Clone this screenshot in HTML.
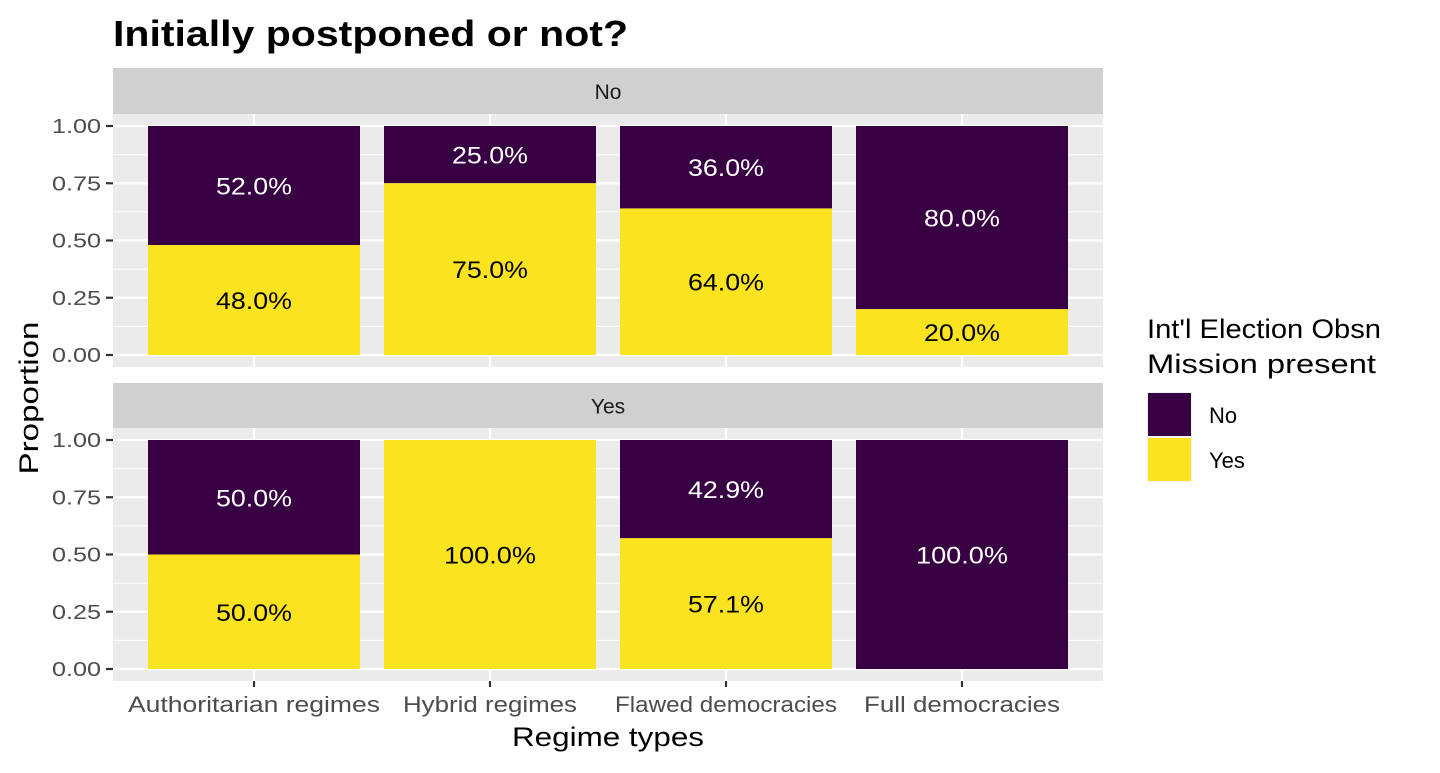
<!DOCTYPE html>
<html><head><meta charset="utf-8"><style>
body{margin:0;background:#fff;width:1440px;height:768px;overflow:hidden}
svg{font-family:"Liberation Sans",sans-serif}
</style></head><body>
<svg id="c" width="1440" height="768"></svg>
<script>
const categories=["Authoritarian regimes","Hybrid regimes","Flawed democracies","Full democracies"];
const facets=["No","Yes"];
const yesNoFacet=[0.48,0.75,0.64,0.20];
const yesYesFacet=[0.50,1.00,0.571,0.00];
const yTicks=[0,0.25,0.5,0.75,1];
const yTickLabels=["0.00","0.25","0.50","0.75","1.00"];
const yesSeries=[yesNoFacet,yesYesFacet];

const svg=document.getElementById('c');
const NS='http://www.w3.org/2000/svg';
function el(t,a,txt){const e=document.createElementNS(NS,t);for(const k in a)e.setAttribute(k,a[k]);if(txt!==undefined)e.textContent=txt;svg.appendChild(e);return e;}
function fit(e,w){e.setAttribute('textLength',w);e.setAttribute('lengthAdjust','spacingAndGlyphs');}
const PL=113,PR=1103;
const panels=[{stripTop:68,top:114,bottom:367,y1:126,y0:355},{stripTop:383,top:428,bottom:681,y1:440,y0:669}];
const xC=i=>254+i*236;const bw=212;

let t=el('text',{x:113,y:46,'font-size':36,'font-weight':'bold',fill:'#000'},'Initially postponed or not?');
fit(t,515);


panels.forEach((p,pi)=>{
  const y=v=>p.y0-(p.y0-p.y1)*v;
  let s=el('rect',{x:PL,y:p.stripTop,width:PR-PL,height:p.top-p.stripTop,fill:'#d0d0d0'});
  
  let st=el('text',{x:(PL+PR)/2,y:(p.stripTop+p.top)/2+8,'text-anchor':'middle','font-size':21,fill:'#1a1a1a'},facets[pi]);
  
  let bg=el('rect',{x:PL,y:p.top,width:PR-PL,height:p.bottom-p.top,fill:'#ebebeb'});
  
  for(let k=0;k<yTicks.length-1;k++){const m=(yTicks[k]+yTicks[k+1])/2;el('line',{x1:PL,x2:PR,y1:y(m),y2:y(m),stroke:'#fff','stroke-width':1.1});}
  yTicks.forEach((v,k)=>{
    el('line',{x1:PL,x2:PR,y1:y(v),y2:y(v),stroke:'#fff','stroke-width':2.2});
    el('line',{x1:106,x2:PL,y1:y(v),y2:y(v),stroke:'#333','stroke-width':2.2});
    let tl=el('text',{x:101,y:y(v)+7,'text-anchor':'end','font-size':20,fill:'#4d4d4d'},yTickLabels[k]);
    fit(tl,49);
    
  });
  categories.forEach((c,i)=>{
    el('line',{x1:xC(i),x2:xC(i),y1:p.top,y2:p.bottom,stroke:'#fff','stroke-width':2.2});
    if(pi===1)el('line',{x1:xC(i),x2:xC(i),y1:p.bottom,y2:p.bottom+6,stroke:'#333','stroke-width':2.2});
  });
  categories.forEach((c,i)=>{
    const yv=yesSeries[pi][i],nv=1-yv;
    if(nv>0){let b=el('rect',{x:xC(i)-bw/2,y:y(1),width:bw,height:y(yv)-y(1),fill:'#360042'});
      
      const s=(nv*100).toFixed(1)+'%';
      let l=el('text',{x:xC(i),y:y(yv+nv/2)+9,'text-anchor':'middle','font-size':24,fill:'#fff'},s);
      fit(l,s.length>5?92:76);
      }
    if(yv>0){let b=el('rect',{x:xC(i)-bw/2,y:y(yv),width:bw,height:y(0)-y(yv),fill:'#fbe31f'});
      
      const s=(yv*100).toFixed(1)+'%';
      let l=el('text',{x:xC(i),y:y(yv/2)+9,'text-anchor':'middle','font-size':24,fill:'#000'},s);
      fit(l,s.length>5?92:76);
      }
  });
});
const xw=[252,174,222,196];
categories.forEach((c,i)=>{let l=el('text',{x:xC(i),y:712,'text-anchor':'middle','font-size':22,fill:'#4d4d4d'},c);
  fit(l,xw[i]);
  });
let xt=el('text',{x:608,y:746,'text-anchor':'middle','font-size':27,fill:'#000'},'Regime types');
fit(xt,192);

let yt=el('text',{x:0,y:0,'text-anchor':'middle','font-size':27,fill:'#000',transform:'translate(38,398) rotate(-90)'},'Proportion');
fit(yt,153);

let lt1=el('text',{x:1147,y:338,'font-size':27,fill:'#000'},"Int'l Election Obsn");
fit(lt1,234);

let lt2=el('text',{x:1147,y:373,'font-size':27,fill:'#000'},'Mission present');
fit(lt2,229);

[['No','#360042',392],['Yes','#fbe31f',437]].forEach(([n,col,yy])=>{
  el('rect',{x:1147,y:yy,width:45,height:45,fill:'#f2f2f2'});
  let k=el('rect',{x:1148,y:yy+1,width:43,height:43,fill:col});
  
  let l=el('text',{x:1209,y:yy+31,'font-size':22,fill:'#000'},n);
  
});
</script>
</body></html>
